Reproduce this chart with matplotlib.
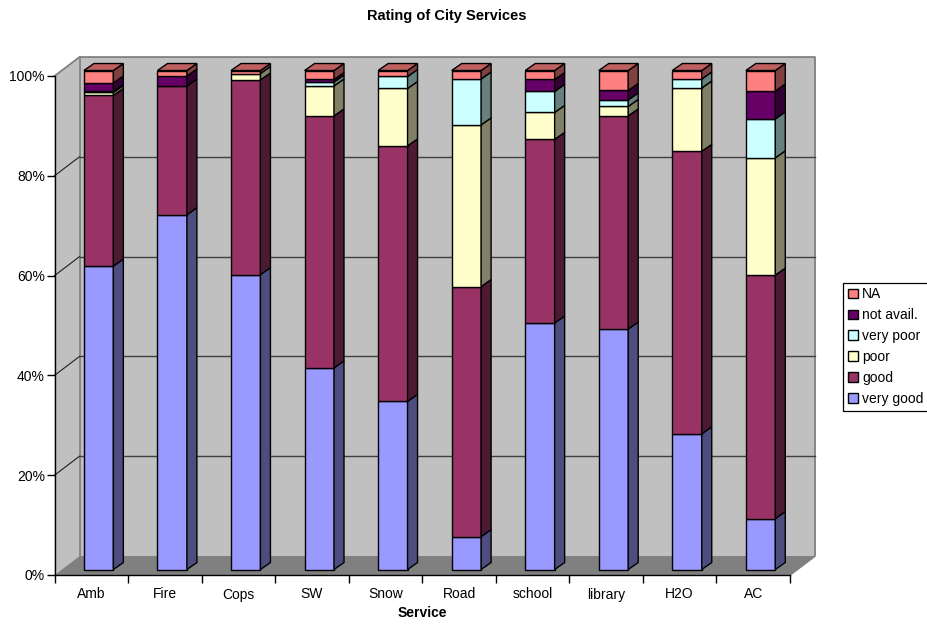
import matplotlib
matplotlib.use("Agg")
import numpy as np
import matplotlib.pyplot as plt
from matplotlib.patches import Patch

plt.rcParams['font.family'] = ['Liberation Sans', 'DejaVu Sans']

# Data (percent of responses)
services = ['Amb', 'Fire', 'Cops', 'SW', 'Snow', 'Road', 'school', 'library', 'H2O', 'AC']
very_good = [60.8, 71.1, 59.1, 40.4, 33.7, 6.6, 49.4, 48.2, 27.2, 10.2]
good = [34.2, 25.8, 39.0, 50.5, 51.2, 50.1, 36.8, 42.7, 56.6, 48.8]
poor = [0.6, 0.0, 1.3, 6.0, 11.5, 32.4, 5.4, 1.9, 12.7, 23.5]
very_poor = [0.2, 0.0, 0.0, 0.8, 2.4, 9.2, 4.2, 1.3, 1.8, 7.8]
not_avail = [1.7, 2.0, 0.0, 0.5, 0.0, 0.0, 2.4, 1.9, 0.0, 5.6]
na = [2.5, 1.1, 0.6, 1.8, 1.2, 1.7, 1.8, 4.0, 1.7, 4.1]

series = [very_good, good, poor, very_poor, not_avail, na]
names = ['very good', 'good', 'poor', 'very poor', 'not avail.', 'NA']
colors = ['#9999FF', '#993366', '#FFFFCC', '#CCFFFF', '#660066', '#FF8080']

# 3D look, in data units (x = categories, y = percent)
wall_dx, wall_dy = 0.34, 3.8
bar_left, bar_w = 0.40, 0.40
bar_dx, bar_dy = 0.136, 1.4
bar_lift = 1.1


def shade(color, k):
    rgb = np.array(matplotlib.colors.to_rgb(color))
    return tuple(rgb * k)


fig = plt.figure(figsize=(9.27, 6.24), dpi=100)
ax = fig.add_axes([54.5 / 927, 1 - 575 / 624, 735.5 / 927, 499 / 624])
ax.set_xlim(0, len(services))
ax.set_ylim(0, 100)
ax.patch.set_visible(False)

n = len(services)
edge = '#808080'
# walls and floor
ax.fill([0, wall_dx, wall_dx, 0], [0, wall_dy, 100 + wall_dy, 100], color='#C0C0C0', clip_on=False, lw=0, zorder=0.1)
ax.fill([wall_dx, n + wall_dx, n + wall_dx, wall_dx], [wall_dy, wall_dy, 100 + wall_dy, 100 + wall_dy],
        color='#C0C0C0', clip_on=False, lw=0, zorder=0.1)
ax.fill([0, n, n + wall_dx, wall_dx], [0, 0, wall_dy, wall_dy], color='#808080', clip_on=False, lw=0, zorder=0.2)
ax.plot([0, wall_dx, n + wall_dx, n + wall_dx, n], [100, 100 + wall_dy, 100 + wall_dy, wall_dy, 0],
        color=edge, lw=1.3, clip_on=False, zorder=0.3)
ax.plot([wall_dx, wall_dx], [wall_dy, 100 + wall_dy], color=edge, lw=1.3, clip_on=False, zorder=0.3)

# gridlines on the walls
for v in range(20, 100, 20):
    ax.plot([0, wall_dx], [v, v + wall_dy], color='#202020', lw=0.8, clip_on=False, zorder=0.4)
    ax.plot([wall_dx, n + wall_dx], [v + wall_dy, v + wall_dy], color='#404040', lw=1.0, clip_on=False, zorder=0.4)

# stacked columns, left to right
z = 1
for i in range(n):
    x0 = i + bar_left
    x1 = x0 + bar_w
    bottom = bar_lift
    top_color = None
    for vals, c in zip(series, colors):
        v = vals[i]
        if v <= 0:
            continue
        ax.bar(x0, v, bar_w, bottom=bottom, align='edge', color=c, edgecolor='black', lw=1.0,
               clip_on=False, zorder=z)
        ax.fill([x1, x1 + bar_dx, x1 + bar_dx, x1],
                [bottom, bottom + bar_dy, bottom + v + bar_dy, bottom + v],
                facecolor=shade(c, 0.5), edgecolor='black', lw=1.0, clip_on=False, zorder=z)
        bottom += v
        top_color = c
        z += 1
    ax.fill([x0, x1, x1 + bar_dx, x0 + bar_dx],
            [bottom, bottom, bottom + bar_dy, bottom + bar_dy],
            facecolor=shade(top_color, 0.75), edgecolor='black', lw=1.0, clip_on=False, zorder=z)
    z += 1

# axes
for s in ['top', 'right']:
    ax.spines[s].set_visible(False)
for s in ['left', 'bottom']:
    ax.spines[s].set_zorder(z + 1)
    ax.spines[s].set_linewidth(1.0)

ax.set_yticks(range(0, 101, 20))
ax.set_yticklabels([f'{v}%' for v in range(0, 101, 20)], fontsize=10)
ax.tick_params(axis='y', length=6, width=1.0, pad=1)
ax.set_xticks(range(n + 1))
ax.set_xticklabels([])
ax.tick_params(axis='x', which='major', length=6, width=1.0)
ax.set_xticks(np.arange(n) + 0.5, minor=True)
ax.set_xticklabels(services, minor=True, fontsize=10)
ax.tick_params(axis='x', which='minor', length=0, pad=9)
ax.set_xlabel('Service', fontsize=10, fontweight='bold', labelpad=3)

fig.text(447 / 927, 1 - 16 / 624, 'Rating of City Services', ha='center', va='center',
         fontsize=10.5, fontweight='bold')

handles = [Patch(facecolor=c, edgecolor='black', lw=1.0) for c in colors]
leg = fig.legend(handles[::-1], names[::-1], loc='upper left', bbox_to_anchor=(843 / 927, 1 - 282.5 / 624),
                 fontsize=10, frameon=True, fancybox=False, edgecolor='black', framealpha=1,
                 borderaxespad=0, borderpad=0.35, labelspacing=0.5, handlelength=0.72,
                 handleheight=0.72, handletextpad=0.3)
leg.get_frame().set_linewidth(0.9)

fig.savefig('out.png', dpi=100)
